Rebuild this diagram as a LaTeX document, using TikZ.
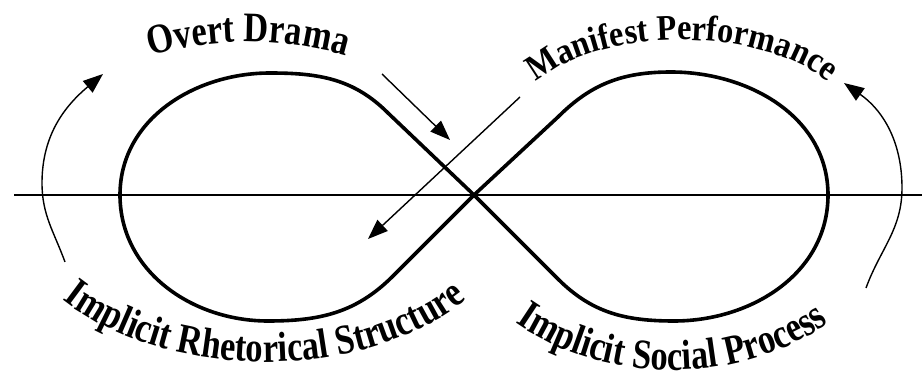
\documentclass[tikz,border=0pt]{standalone}
\usepackage{fontspec}
\newfontfamily\artfont{Liberation Serif}[FakeStretch=0.82]
\newfontfamily\artwidefont{Liberation Serif}[FakeStretch=0.9]
\usepackage{tikz}
\usetikzlibrary{arrows.meta}
\usetikzlibrary{decorations.text}
\usetikzlibrary{calc}
\pgfdeclarelayer{edgelayer}
\pgfdeclarelayer{nodelayer}
\pgfsetlayers{edgelayer,nodelayer,main}
\tikzstyle{loopline}=[line width=3.6pt,line join=round]
\tikzstyle{axisline}=[line width=1.8pt]
\tikzstyle{flow}=[line width=1.4pt,-{Triangle[length=20pt,width=15pt]}]
\tikzset{
	arctext/.style={decorate,decoration={text along path,text align=center,text={#1}}}
}
\newcommand{\bigart}{\artfont\bfseries\fontsize{42}{48}\selectfont}
\newcommand{\smallart}{\artwidefont\bfseries\fontsize{36}{40}\selectfont}

\begin{document}
\begin{tikzpicture}[x=1pt,y=1pt]
	\useasboundingbox (0,0) rectangle (922,378);
	\begin{pgfonlayer}{nodelayer}
		\coordinate (axl) at (14,183);
		\coordinate (axr) at (922,183);
		\coordinate (x) at (474,183);
		\coordinate (odt) at (382,304);
		\coordinate (odh) at (450,238);
		\coordinate (mpt) at (520,281);
		\coordinate (mph) at (368,139);
		\coordinate (lt) at (65,116);
		\coordinate (lm) at (42,195);
		\coordinate (lh) at (103,304);
		\coordinate (rt) at (866,90);
		\coordinate (rm) at (902,190);
		\coordinate (rh) at (844,295);
		% labels round the loops
		\path[arctext={|\bigart|Overt Drama}] (248,-14) ++(130:350) arc[start angle=130,end angle=50,radius=350];
		\path[arctext={|\smallart|Manifest Performance}] (682,252) ++(170:170 and 86) arc[start angle=170,end angle=10,x radius=170,y radius=86];
		\path[arctext={|\bigart|Implicit Rhetorical Structure}] (265,189) ++(205:263 and 173) arc[start angle=205,end angle=335,x radius=263,y radius=173];
		\path[arctext={|\bigart|Implicit Social Process}] (672,189) ++(205:233 and 181) arc[start angle=205,end angle=335,x radius=233,y radius=181];
	\end{pgfonlayer}
	\begin{pgfonlayer}{edgelayer}
		\draw[axisline] (axl) -- (axr);
		\draw[loopline] (x) -- (388,265) to[out=135,in=0] (270,305) to[out=180,in=90] (120,183)
			to[out=-90,in=180] (268,57) to[out=0,in=-135] (393,102) -- (x)
			-- (558,261) to[out=45,in=180] (671,306) to[out=0,in=90] (828,183)
			to[out=-90,in=0] (674,57) to[out=180,in=-45] (558,99) -- cycle;
		\draw[flow] (odt) -- (odh);
		\draw[flow] (mpt) -- (mph);
		\draw[flow] (lt) to[out=110,in=-90] (lm) to[out=90,in=-140] (lh);
		\draw[flow] (rt) to[out=70,in=-90] (rm) to[out=90,in=-35] (rh);
	\end{pgfonlayer}
\end{tikzpicture}
\end{document}
